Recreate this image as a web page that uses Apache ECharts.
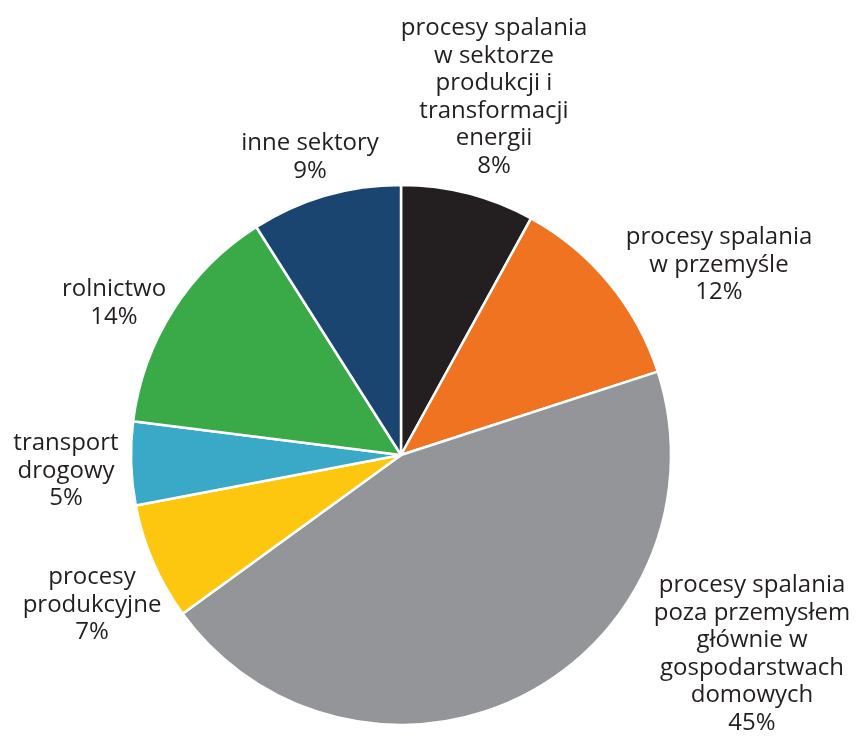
<!DOCTYPE html>
<html>
<head>
<meta charset="utf-8">
<script src="https://cdn.jsdelivr.net/npm/echarts@6/dist/echarts.min.js"></script>
<style>html,body{margin:0;padding:0;background:#fff}#c{width:856px;height:738px}</style>
</head>
<body>
<div id="c"></div>
<script>
// Data
const categories = [
  'procesy spalania\nw sektorze\nprodukcji i\ntransformacji\nenergii',
  'procesy spalania\nw przemyśle',
  'procesy spalania\npoza przemysłem\ngłównie w\ngospodarstwach\ndomowych',
  'procesy\nprodukcyjne',
  'transport\ndrogowy',
  'rolnictwo',
  'inne sektory'
];
const values = [8, 12, 45, 7, 5, 14, 9];
const colors = ['#231f20', '#f07322', '#939598', '#fdc70f', '#3aa9c8', '#3aaa48', '#1a4570'];

// Label anchor positions (layout only)
const labelPos = [[494, 97], [719, 265], [752, 654], [92, 605], [66, 471], [114, 303], [310, 157]];

const chart = echarts.init(document.getElementById('c'), null, {renderer: 'canvas'});
chart.setOption({
  animation: false,
  series: [{
    type: 'pie',
    center: [401, 455],
    radius: [0, 270],
    startAngle: 90,
    clockwise: true,
    avoidLabelOverlap: false,
    itemStyle: {borderColor: '#ffffff', borderWidth: 2.5},
    label: {
      show: true,
      position: 'outside',
      formatter: p => p.name + '\n' + p.value + '%',
      fontFamily: '"Open Sans", sans-serif',
      fontSize: 24,
      lineHeight: 27.5,
      color: '#231f20',
      align: 'center'
    },
    labelLine: {show: false},
    labelLayout: function (params) {
      const p = labelPos[params.dataIndex];
      return {x: p[0], y: p[1], align: 'center', verticalAlign: 'middle'};
    },
    emphasis: {disabled: true},
    data: categories.map((c, i) => ({name: c, value: values[i], itemStyle: {color: colors[i]}}))
  }]
});
</script>
</body>
</html>
